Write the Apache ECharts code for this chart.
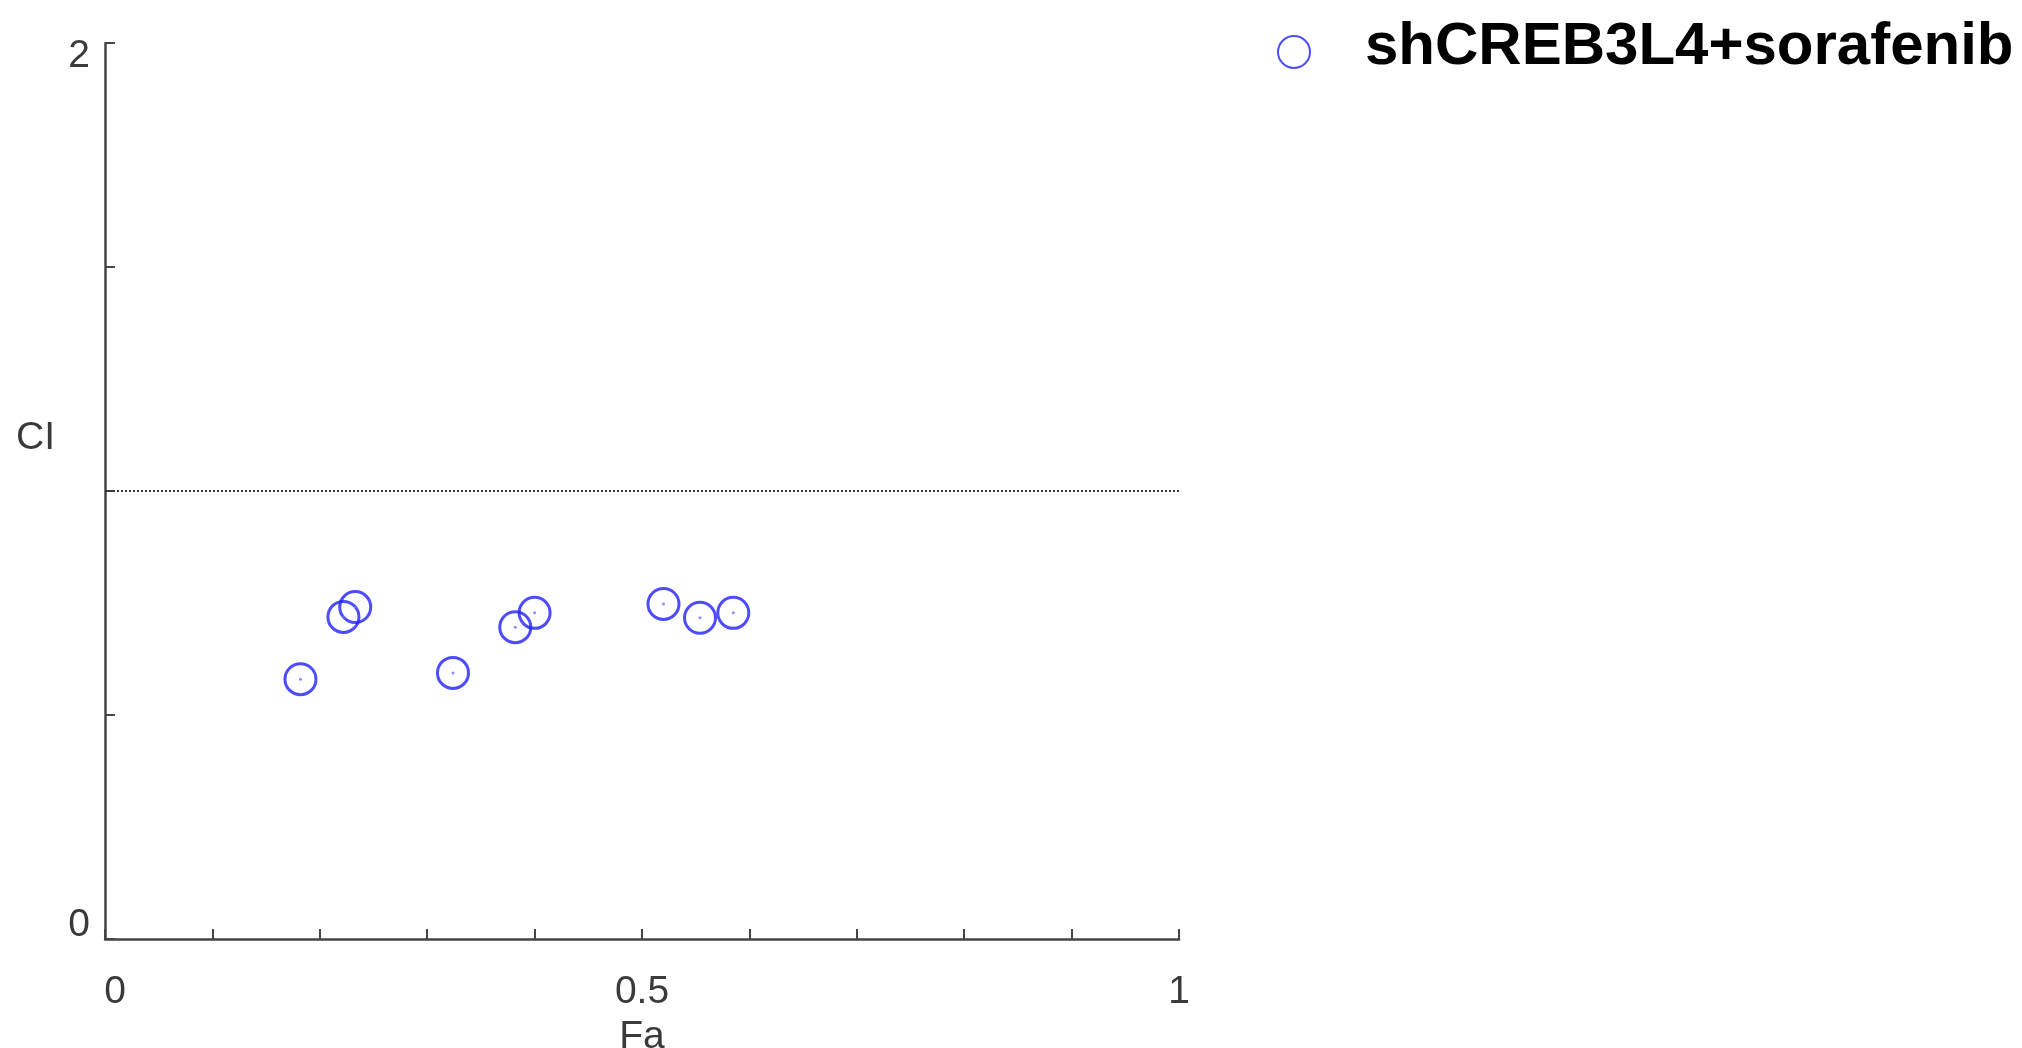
<!DOCTYPE html>
<html>
<head>
<meta charset="utf-8">
<script src="https://cdn.jsdelivr.net/npm/echarts@6/dist/echarts.min.js"></script>
<style>
  html, body { margin: 0; padding: 0; background: #ffffff; overflow: hidden; }
  #chart { width: 2022px; height: 1048px; }
</style>
</head>
<body>
<div id="chart"></div>
<script>
// ---- data ----
var seriesName = 'shCREB3L4+sorafenib';
var faValues = [0.182, 0.222, 0.233, 0.324, 0.382, 0.400, 0.520, 0.554, 0.585];
var ciValues = [0.580, 0.719, 0.741, 0.594, 0.696, 0.728, 0.748, 0.717, 0.728];
var xTickLabels = [0, 0.5, 1];
var yTickLabels = [0, 2];
var additivityLine = 1;
var xAxisName = 'Fa';
var yAxisName = 'CI';

var points = faValues.map(function (x, i) { return [x, ciValues[i]]; });

function near(v, list) {
  for (var i = 0; i < list.length; i++) if (Math.abs(v - list[i]) < 1e-9) return list[i];
  return null;
}

var FONT = 'Liberation Sans, Arial, sans-serif';
var labelColor = '#3a3a3a';
var axisColor = '#444444';
var markerBlue = '#2020ff';
var labelSize = 39;

var chart = echarts.init(document.getElementById('chart'));
chart.setOption({
  backgroundColor: '#ffffff',
  animation: false,
  grid: { left: 105, right: 843, top: 43, bottom: 109, containLabel: false, outerBoundsMode: 'none' },
  legend: {
    left: 1272,
    top: 12,
    itemWidth: 32,
    itemHeight: 32,
    data: [seriesName],
    formatter: function (name) { return '{n|' + name + '}'; },
    textStyle: {
      fontFamily: FONT,
      fontWeight: 'bold',
      fontSize: 60,
      color: '#000000',
      rich: {
        n: { fontFamily: FONT, fontWeight: 'bold', fontSize: 60, color: '#000000', padding: [0, 0, 10, 50] }
      }
    }
  },
  graphic: [{
    type: 'text',
    left: 16,
    top: 419,
    style: { text: yAxisName, font: labelSize + 'px ' + FONT, fill: labelColor }
  }],
  xAxis: {
    type: 'value',
    min: 0,
    max: 1,
    interval: 0.1,
    name: xAxisName,
    nameLocation: 'middle',
    nameGap: 79,
    nameTextStyle: { fontFamily: FONT, fontSize: labelSize, color: labelColor },
    axisLine: { show: true, onZero: false, lineStyle: { color: axisColor, width: 2.5 } },
    axisTick: { show: true, inside: true, length: 10, lineStyle: { color: axisColor, width: 2 } },
    splitLine: { show: false },
    axisLabel: {
      margin: 34,
      fontFamily: FONT,
      fontSize: labelSize,
      color: labelColor,
      formatter: function (v) {
        var n = near(v, xTickLabels);
        if (n === null) return '';
        if (n === 0) return '{z|0}';
        return String(n);
      },
      rich: {
        z: { fontFamily: FONT, fontSize: labelSize, color: labelColor, padding: [0, 0, 0, 20] }
      }
    }
  },
  yAxis: {
    type: 'value',
    min: 0,
    max: 2,
    interval: 0.5,
    axisLine: { show: true, onZero: false, lineStyle: { color: axisColor, width: 2.5 } },
    axisTick: { show: true, inside: true, length: 10, lineStyle: { color: axisColor, width: 2 } },
    splitLine: { show: false },
    axisLabel: {
      margin: 15,
      fontFamily: FONT,
      fontSize: labelSize,
      color: labelColor,
      formatter: function (v) {
        var n = near(v, yTickLabels);
        if (n === null) return '';
        if (n === yTickLabels[yTickLabels.length - 1]) return '{t|' + n + '}';
        return '{b|' + n + '}';
      },
      rich: {
        t: { fontFamily: FONT, fontSize: labelSize, color: labelColor, padding: [26, 0, 0, 0] },
        b: { fontFamily: FONT, fontSize: labelSize, color: labelColor, padding: [0, 0, 28, 0] }
      }
    }
  },
  series: [
    {
      name: seriesName,
      type: 'scatter',
      data: points,
      symbol: 'circle',
      symbolSize: 31,
      itemStyle: { color: 'rgba(0,0,0,0)', borderColor: markerBlue, borderWidth: 3 },
      markLine: {
        silent: true,
        symbol: ['none', 'none'],
        label: { show: false },
        lineStyle: { type: [2, 2], color: '#333333', width: 2 },
        data: [{ yAxis: additivityLine }]
      },
      z: 3
    },
    {
      name: 'centers',
      type: 'scatter',
      data: points,
      symbol: 'circle',
      symbolSize: 3,
      itemStyle: { color: '#7070ff' },
      z: 4
    }
  ]
});
</script>
</body>
</html>
